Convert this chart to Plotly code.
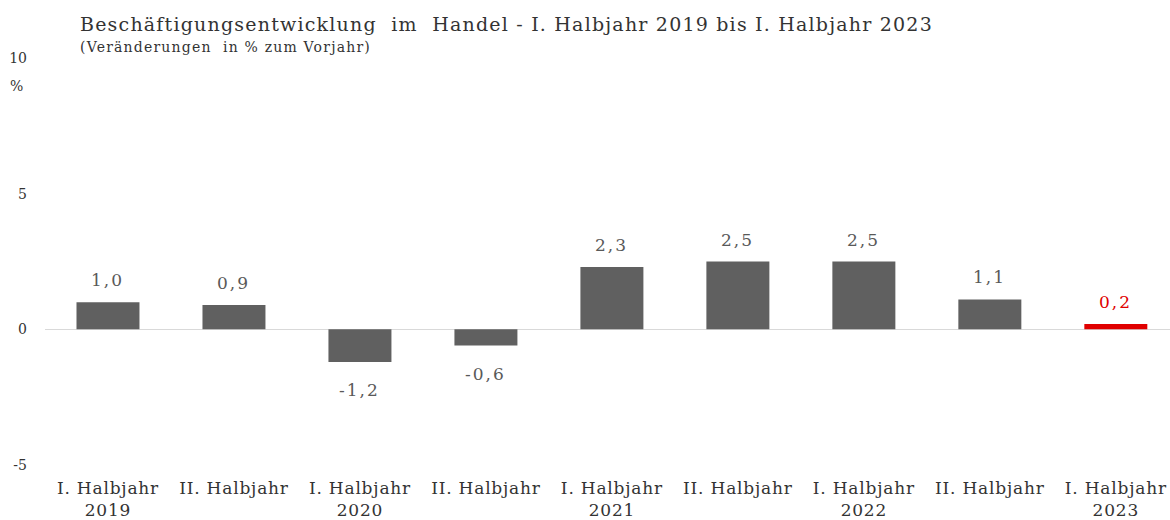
import plotly.graph_objects as go

categories = ["I. Halbjahr<br>2019", "II. Halbjahr", "I. Halbjahr<br>2020", "II. Halbjahr",
              "I. Halbjahr<br>2021", "II. Halbjahr", "I. Halbjahr<br>2022", "II. Halbjahr",
              "I. Halbjahr<br>2023"]
values = [1.0, 0.9, -1.2, -0.6, 2.3, 2.5, 2.5, 1.1, 0.2]
labels = ["1,0", "0,9", "-1,2", "-0,6", "2,3", "2,5", "2,5", "1,1", "0,2"]
y_ticks = [-5, 0, 5, 10]

FONT = "DejaVu Serif, Liberation Serif, serif"
GREY = "#606060"
RED = "#e00000"


def spaced(text, px):
    return "<br>".join(f"<span style='letter-spacing:{px}px'>{part}</span>"
                       for part in text.split("<br>"))


bar_colors = [GREY] * (len(values) - 1) + [RED]
label_colors = ["#595959"] * (len(values) - 1) + [RED]

fig = go.Figure()
fig.add_trace(go.Bar(
    x=list(range(len(categories))), y=values, width=0.5,
    marker=dict(color=bar_colors, line=dict(width=0)),
    hoverinfo="skip",
))

for i, (v, t, c) in enumerate(zip(values, labels, label_colors)):
    fig.add_annotation(
        x=i, y=v, text=spaced(t, 2), showarrow=False,
        yanchor="bottom" if v >= 0 else "top",
        yshift=10 if v >= 0 else -16,
        font=dict(family=FONT, size=17, color=c),
    )

fig.add_annotation(xref="paper", yref="paper", x=-0.0249, y=0.931, text="%",
                   showarrow=False, xanchor="center", yanchor="middle",
                   font=dict(family=FONT, size=14, color="#333333"))

fig.add_annotation(xref="paper", yref="paper", x=0.0293, y=1.0835,
                   text=spaced("Beschäftigungsentwicklung  im  Handel - I. Halbjahr 2019 bis I. Halbjahr 2023", 1.2),
                   showarrow=False, xanchor="left", yanchor="middle",
                   font=dict(family=FONT, size=19, color="#333333"))
fig.add_annotation(xref="paper", yref="paper", x=0.0293, y=1.027,
                   text=spaced("(Veränderungen  in % zum Vorjahr)", 1.2),
                   showarrow=False, xanchor="left", yanchor="middle",
                   font=dict(family=FONT, size=14, color="#333333"))

fig.update_layout(
    width=1170, height=520,
    margin=dict(l=45, r=0, t=58, b=55),
    plot_bgcolor="white", paper_bgcolor="white",
    showlegend=False,
    xaxis=dict(
        tickmode="array", tickvals=list(range(len(categories))),
        ticktext=[spaced(c, 0.8) for c in categories],
        range=[-0.5, 8.43], showgrid=False, zeroline=False, showline=False, ticks="",
        automargin=False, ticklabelstandoff=11,
        tickfont=dict(family=FONT, size=17, color="#333333"),
    ),
    yaxis=dict(
        range=[-5, 10], tickvals=y_ticks, ticktext=[str(v) for v in y_ticks],
        showgrid=False, zeroline=True, zerolinecolor="#d9d9d9", zerolinewidth=1,
        showline=False, ticks="", ticklabelstandoff=17, automargin=False,
        tickfont=dict(family=FONT, size=14, color="#333333"),
    ),
)

fig.write_html("out.html",
               config={"displayModeBar": False},
               post_script="document.body.style.margin='0';document.body.style.overflow='hidden';")
